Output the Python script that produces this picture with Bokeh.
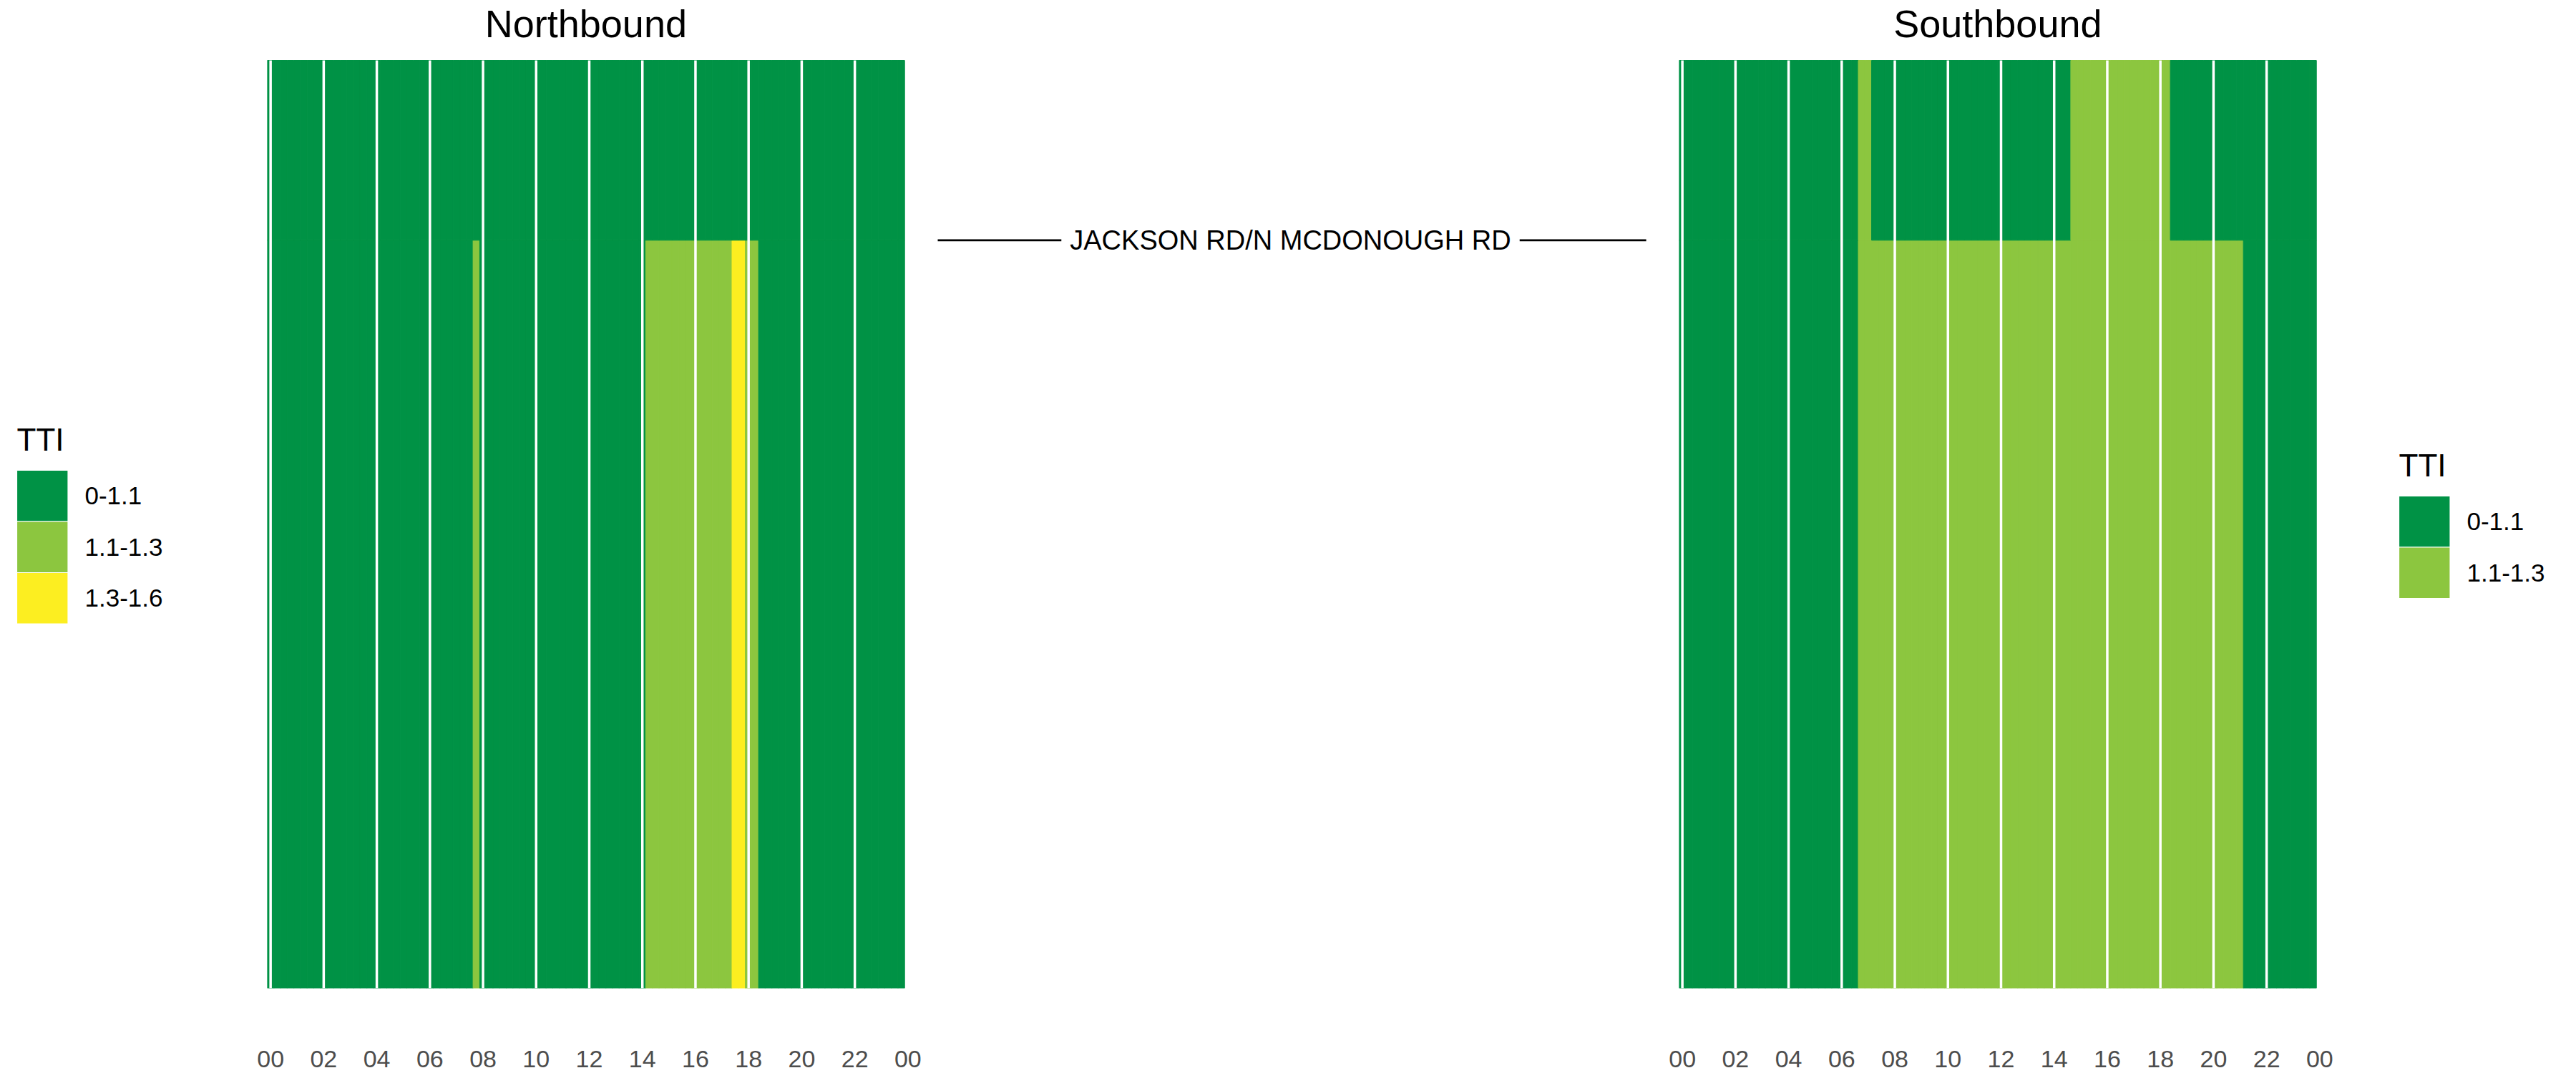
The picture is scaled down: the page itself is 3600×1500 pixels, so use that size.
from bokeh.plotting import figure
from bokeh.models import ColumnDataSource, Range1d, FixedTicker, Label
from bokeh.layouts import row
from bokeh.embed import file_html
from bokeh.resources import INLINE
from bokeh.core.properties import value

FONT = "Liberation Sans"

# ---------------- data ----------------
tti_categories = ["0-1.1", "1.1-1.3", "1.3-1.6"]
tti_colors = ["#009245", "#8CC63F", "#FCEE21"]

directions = ["Northbound", "Southbound"]
intersection_name = "JACKSON RD/N MCDONOUGH RD"

# corridor segments (miles): lower segment, upper segment; intersection between them
segment_start = [0.0, 1.04]
segment_end = [1.04, 1.29]
intersection_mile = 1.04

# 15-minute bins: one string per hour (:00 :15 :30 :45), digit = index into tti_categories
nb_lower = ["0000", "0000", "0000", "0000", "0000", "0000", "0000", "0001",
            "0000", "0000", "0000", "0000", "0000", "0000", "0111", "1111",
            "1111", "1122", "1100", "0000", "0000", "0000", "0000", "0000"]
nb_upper = ["0000", "0000", "0000", "0000", "0000", "0000", "0000", "0000",
            "0000", "0000", "0000", "0000", "0000", "0000", "0000", "0000",
            "0000", "0000", "0000", "0000", "0000", "0000", "0000", "0000"]
sb_lower = ["0000", "0000", "0000", "0000", "0000", "0000", "0001", "1111",
            "1111", "1111", "1111", "1111", "1111", "1111", "1111", "1111",
            "1111", "1111", "1111", "1111", "1111", "1000", "0000", "0000"]
sb_upper = ["0000", "0000", "0000", "0000", "0000", "0000", "0001", "1000",
            "0000", "0000", "0000", "0000", "0000", "0000", "0001", "1111",
            "1111", "1111", "1100", "0000", "0000", "0000", "0000", "0000"]

tick_hours = [0, 2, 4, 6, 8, 10, 12, 14, 16, 18, 20, 22, 24]
tick_labels = ["00", "02", "04", "06", "08", "10", "12", "14", "16", "18", "20", "22", "00"]

BIN = 0.25  # hours

# ---------------- layout constants (pixels) ----------------
H = 1500
PAD_TOP = 84       # space above the tiles (title lives here, inside the frame)
TILE_H = 1297      # height of the tile area
BOTTOM = 119       # axis band below
FRAME_H = H - BOTTOM
span = segment_end[-1] - segment_start[0]
y_top = segment_end[-1] + span * PAD_TOP / TILE_H
shared_y = Range1d(segment_start[0], y_top)


def tile_source(rows):
    d = dict(left=[], right=[], bottom=[], top=[], color=[], tti=[])
    for s, hours in enumerate(rows):
        for h, codes in enumerate(hours):
            for q, c in enumerate(codes):
                t = h + q * BIN
                k = int(c)
                d["left"].append(t - BIN / 2)
                d["right"].append(t + BIN / 2)
                d["bottom"].append(segment_start[s])
                d["top"].append(segment_end[s])
                d["color"].append(tti_colors[k])
                d["tti"].append(tti_categories[k])
    return ColumnDataSource(d)


def panel(title, rows, width, bl, br):
    src = tile_source(rows)
    p = figure(width=width, height=H, x_range=Range1d(-BIN / 2, 24 + BIN / 2),
               y_range=shared_y, output_backend="svg", toolbar_location=None,
               title=None, y_axis_location=None, min_border_left=bl, min_border_right=br,
               min_border_top=0, min_border_bottom=BOTTOM,
               outline_line_color=None, background_fill_color="white",
               border_fill_color="white")
    p.quad(left="left", right="right", bottom="bottom", top="top",
           fill_color="color", line_color="color", line_width=1, source=src)
    # white hour separators over the tiles
    n = len(tick_hours)
    p.segment(x0=tick_hours, x1=tick_hours, y0=[segment_start[0]] * n,
              y1=[segment_end[-1]] * n, line_color="white", line_width=3.5)
    ax = p.xaxis[0]
    ax.ticker = FixedTicker(ticks=tick_hours)
    ax.major_label_overrides = {h: lab for h, lab in zip(tick_hours, tick_labels)}
    ax.axis_line_color = None
    ax.major_tick_line_color = None
    ax.minor_tick_line_color = None
    ax.major_label_standoff = 81
    ax.major_label_text_font_size = "34px"
    ax.major_label_text_font = FONT
    ax.major_label_text_color = "#4D4D4D"
    p.grid.visible = False
    xmid = (min(src.data["left"]) + max(src.data["right"])) / 2
    p.text(x=[xmid], y=[y_top], text=[title], y_offset=32, text_align="center",
           text_baseline="middle", text_font=value(FONT), text_font_size="54px",
           text_color="black")
    return p, sorted(set(src.data["tti"]), key=tti_categories.index)


def legend_fig(width, cats, key_x, key_top):
    # frame shares the row's vertical geometry: y in pixels from the top
    K = 71.5
    p = figure(width=width, height=H, x_range=Range1d(0, width),
               y_range=Range1d(FRAME_H, 0), output_backend="svg",
               toolbar_location=None, title=None, min_border_left=0, min_border_right=0,
               min_border_top=0, min_border_bottom=BOTTOM,
               x_axis_location=None, y_axis_location=None, outline_line_color=None)
    p.grid.visible = False
    n = len(cats)
    cols = [tti_colors[tti_categories.index(c)] for c in cats]
    tops = [key_top + i * K for i in range(n)]
    p.quad(left=[key_x] * n, right=[key_x + K] * n, top=tops,
           bottom=[t + K for t in tops], fill_color=cols, line_color="white", line_width=1.2)
    p.text(x=[key_x + 95] * n, y=[t + K / 2 for t in tops], text=cats,
           text_baseline="middle", text_align="left", text_font=value(FONT),
           text_font_size="35px", text_color="black")
    p.text(x=[key_x], y=[key_top - 43], text=["TTI"], text_baseline="middle",
           text_align="left", text_font=value(FONT), text_font_size="44px",
           text_color="black")
    return p


nb, nb_cats = panel(directions[0], [nb_lower, nb_upper], 947, 30, 17)
sb, sb_cats = panel(directions[1], [sb_lower, sb_upper], 946, 30, 16)

mid = figure(width=1026, height=H, x_range=Range1d(0, 1), y_range=shared_y,
             output_backend="svg", toolbar_location=None, title=None, min_border_left=0,
             min_border_right=0, min_border_top=0, min_border_bottom=BOTTOM,
             x_axis_location=None, y_axis_location=None, outline_line_color=None)
mid.grid.visible = False
mid.line(x=[0.0195, 0.9845], y=[intersection_mile, intersection_mile],
         line_color="black", line_width=2.7)
mid.add_layout(Label(x=0.5, y=intersection_mile, text=intersection_name,
                     text_align="center", text_baseline="middle", text_font=FONT,
                     text_font_size="38px", text_color="black",
                     background_fill_color="white", padding=12))

leg_l = legend_fig(343, nb_cats, 23, 657)
leg_r = legend_fig(338, sb_cats, 90, 693)

layout = row(leg_l, nb, mid, sb, leg_r)
open("out.html", "w").write(file_html(layout, INLINE))
